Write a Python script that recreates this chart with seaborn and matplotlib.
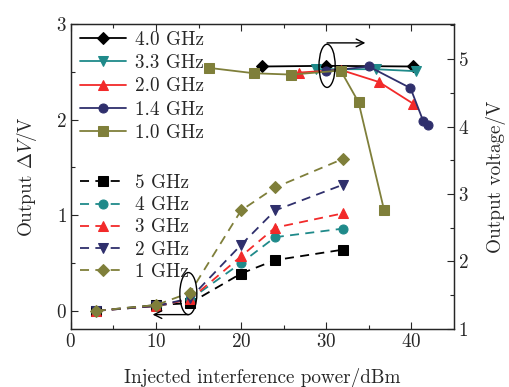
import numpy as np
import matplotlib
matplotlib.use("Agg")
import matplotlib.pyplot as plt
import seaborn as sns
from matplotlib.patches import Ellipse

# dashed series, left axis (Output dV)
power_dv = [3, 10, 14, 20, 24, 32]
dv_5ghz = [0.0, 0.06, 0.08, 0.39, 0.53, 0.64]
dv_4ghz = [0.0, 0.05, 0.12, 0.50, 0.77, 0.86]
dv_3ghz = [0.0, 0.05, 0.12, 0.57, 0.87, 1.02]
dv_2ghz = [0.0, 0.05, 0.13, 0.69, 1.05, 1.32]
dv_1ghz = [0.0, 0.06, 0.19, 1.05, 1.29, 1.59]

# solid series, right axis (output voltage)
p_40 = [22.5, 30.0, 40.2]
v_40 = [4.89, 4.90, 4.89]
p_33 = [28.8, 35.8, 40.6]
v_33 = [4.85, 4.85, 4.82]
p_20 = [26.8, 31.7, 36.2, 40.2]
v_20 = [4.80, 4.84, 4.66, 4.34]
p_14 = [30.0, 35.0, 39.9, 41.4, 41.9]
v_14 = [4.82, 4.89, 4.57, 4.08, 4.02]
p_10 = [16.2, 21.5, 25.9, 31.7, 33.8, 36.8]
v_10 = [4.87, 4.79, 4.77, 4.83, 4.36, 2.76]

black = "#000000"
teal = "#1f8a8a"
red = "#f22a2a"
navy = "#2f2f6c"
olive = "#7f7f3a"

sns.set_style("ticks")
plt.rcParams["font.family"] = ["cmr10", "DejaVu Serif"]
plt.rcParams["mathtext.fontset"] = "cm"
plt.rcParams["axes.formatter.use_mathtext"] = True
plt.rcParams["font.size"] = 13.8

fig = plt.figure(figsize=(5.1, 3.87), dpi=100)
ax = fig.add_axes([0.139, 0.150, 0.751, 0.788])
ax2 = ax.twinx()

lw = 1.3
ms = 6.5

dashed = [
    (dv_5ghz, black, "s", "5 GHz"),
    (dv_4ghz, teal, "o", "4 GHz"),
    (dv_3ghz, red, "^", "3 GHz"),
    (dv_2ghz, navy, "v", "2 GHz"),
    (dv_1ghz, olive, "D", "1 GHz"),
]
h2 = []
for vals, c, m, lab in dashed:
    sns.lineplot(x=power_dv, y=vals, ax=ax, color=c, marker=m, markersize=ms if m != "D" else ms - 0.5,
                 markeredgecolor=c, linewidth=lw, linestyle=(0, (5, 3.5)), sort=False)
    h2.append(ax.lines[-1])

solid = [
    (p_40, v_40, black, "D", "4.0 GHz"),
    (p_33, v_33, teal, "v", "3.3 GHz"),
    (p_20, v_20, red, "^", "2.0 GHz"),
    (p_14, v_14, navy, "o", "1.4 GHz"),
    (p_10, v_10, olive, "s", "1.0 GHz"),
]
h1 = []
for xs, vals, c, m, lab in solid:
    sns.lineplot(x=xs, y=vals, ax=ax2, color=c, marker=m, markersize=ms if m != "D" else ms - 0.5,
                 markeredgecolor=c, linewidth=lw, sort=False)
    h1.append(ax2.lines[-1])

ax.set_xlim(0, 45)
ax.set_ylim(-0.19, 3.0)
ax2.set_ylim(1, 5.52)
ax.set_xticks([0, 10, 20, 30, 40])
ax.set_xticks([5, 15, 25, 35], minor=True)
ax.set_yticks([0, 1, 2, 3])
ax.set_yticks([0.5, 1.5, 2.5], minor=True)
ax2.set_yticks([1, 2, 3, 4, 5])
ax2.set_yticks([1.5, 2.5, 3.5, 4.5, 5.5], minor=True)

ax.tick_params(which="both", direction="in", top=True, right=False, width=0.8, pad=3)
ax.tick_params(which="major", length=5)
ax.tick_params(which="minor", length=3)
ax2.tick_params(which="both", direction="in", width=0.8, pad=3)
ax2.tick_params(which="major", length=5)
ax2.tick_params(which="minor", length=3)
for a in (ax, ax2):
    for s in a.spines.values():
        s.set_linewidth(0.9)
        s.set_visible(True)

ax.set_xlabel("Injected interference power/dBm", labelpad=12)
ax.set_ylabel(r"Output $\Delta V$/V", labelpad=12)
ax2.set_ylabel("Output voltage/V", labelpad=12)

leg1 = ax2.legend(h1, [s[4] for s in solid], loc="upper left", bbox_to_anchor=(-0.005, 1.015),
                  frameon=False, handlelength=2.4, handletextpad=0.45, labelspacing=0.28,
                  borderaxespad=0.2)
ax2.add_artist(leg1)
ax2.legend(h2, [d[3] for d in dashed], loc="upper left", bbox_to_anchor=(-0.005, 0.545),
           frameon=False, handlelength=2.4, handletextpad=0.45, labelspacing=0.22,
           borderaxespad=0.2)

# annotation ellipses with arrows
ax2.add_patch(Ellipse((30.1, 4.90), 1.9, 0.64, fill=False, edgecolor="black", linewidth=1.0, zorder=5))
ax2.annotate("", xy=(34.6, 5.24), xytext=(30.1, 5.24),
             arrowprops=dict(arrowstyle="->", color="black", lw=1.0, shrinkA=0, shrinkB=0))
ax.add_patch(Ellipse((13.8, 0.18), 2.0, 0.44, fill=False, edgecolor="black", linewidth=1.0, zorder=5))
ax.annotate("", xy=(9.6, -0.04), xytext=(13.8, -0.04),
            arrowprops=dict(arrowstyle="->", color="black", lw=1.0, shrinkA=0, shrinkB=0))

fig.savefig("out.png", dpi=100)
